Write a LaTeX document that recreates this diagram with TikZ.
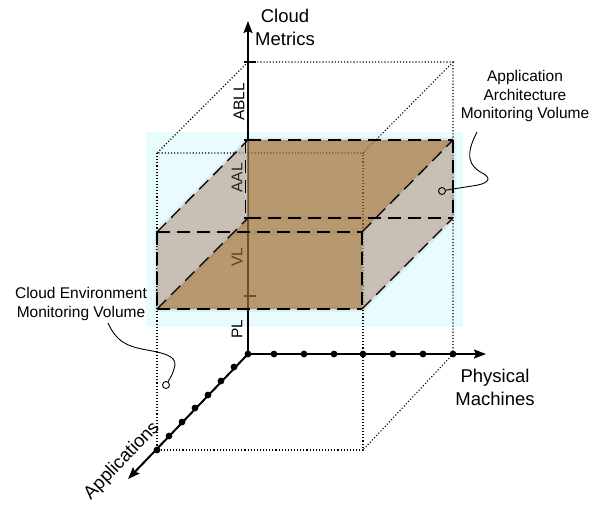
\documentclass[tikz,border=0pt]{standalone}
\usepackage{fontspec}
\setmainfont{Liberation Sans}
\usetikzlibrary{arrows.meta}
\definecolor{cyanbg}{RGB}{232,251,253}
\definecolor{volbrown}{RGB}{163,110,51}
\definecolor{volgrey}{RGB}{187,167,151}
\definecolor{shadowcol}{RGB}{40,50,110}
\definecolor{labbrown}{RGB}{95,62,22}
\definecolor{labdark}{RGB}{40,36,32}
\begin{document}
\begin{tikzpicture}[x=1pt,y=-1pt,
  dotline/.style={line width=1.1pt, dash pattern=on 1.1pt off 2pt, black},
  dashline/.style={line width=1.3pt, dash pattern=on 13pt off 7pt, black},
  shadowline/.style={line width=5pt, shadowcol, opacity=0.07, shift={(1,5)}},
  axisline/.style={line width=2pt, black},
  axisdot/.style={circle, fill=black, inner sep=0pt, minimum size=6.8pt},
  bigtext/.style={font=\fontsize{18.5}{23}\selectfont, align=center},
  smalltext/.style={font=\fontsize{15.5}{18.3}\selectfont, align=center},
  axlabel/.style={font=\fontsize{15.5}{18}\selectfont, rotate=90},
  tickmark/.style={line width=1.8pt, black},
  callout/.style={line width=0.9pt, black},
  marker/.style={circle, draw=black, line width=0.9pt, inner sep=0pt, minimum size=7pt},
  volfill/.style={fill=volbrown, fill opacity=0.7},
  sidefill/.style={fill=volgrey, fill opacity=0.7},
]
\useasboundingbox (0,0) rectangle (600,504);
% background highlight
\fill[cyanbg] (146,132) rectangle (463,327);

% coordinates
\coordinate (O) at (248,354);
\coordinate (Ztip) at (248,21);
\coordinate (Xtip) at (486,354);
\coordinate (Ytip) at (128,479);
% outer (dotted) box
\coordinate (A0) at (248,62);
\coordinate (B0) at (453,62);
\coordinate (C0) at (363,153);
\coordinate (D0) at (157,153);
\coordinate (E0) at (157,450);
\coordinate (F0) at (363,450);
\coordinate (G0) at (453,354);
% volume box
\coordinate (a1) at (248,140);
\coordinate (b1) at (453,140);
\coordinate (c1) at (453,218);
\coordinate (d1) at (248,218);
\coordinate (e1) at (157,232);
\coordinate (f1) at (362,232);
\coordinate (g1) at (362,309);
\coordinate (h1) at (157,309);

% dotted outer box
\draw[dotline] (A0) -- (B0) -- (C0) -- (D0) -- cycle;
\draw[dotline] (D0) -- (E0) -- (F0) -- (C0);
\draw[dotline] (B0) -- (G0) -- (F0);

% axes
\draw[axisline, -{Stealth[length=12pt,width=9pt,inset=2pt]}] (O) -- (Ztip);
\draw[axisline, -{Stealth[length=12pt,width=9pt,inset=2pt]}] (O) -- (Xtip);
\draw[axisline, -{Stealth[length=12pt,width=9pt,inset=2pt]}] (O) -- (Ytip);

% ticks under the volume
\draw[tickmark] (a1) ++(-4,0) -- ++(12,0);
\draw[tickmark] (248,296) ++(-4,0) -- ++(12,0);

% shadows of the volume edges
\draw[shadowline] (a1) -- (b1) -- (c1) -- (g1) -- (h1) -- (e1) -- cycle;
\draw[shadowline] (d1) -- (c1);
\draw[shadowline] (e1) -- (f1) -- (g1);
\draw[shadowline] (h1) -- (d1);
\draw[shadowline] (f1) -- (b1);

% volume fills
\fill[volfill] (a1) -- (b1) -- (f1) -- (g1) -- (h1) -- (d1) -- cycle;
\fill[sidefill] (e1) -- (a1) -- (d1) -- (h1) -- cycle;
\fill[sidefill] (b1) -- (c1) -- (g1) -- (f1) -- cycle;

% dashed edges
\draw[dashline] (a1) -- (b1);
\draw[dashline] (d1) -- (c1);
\draw[dashline] (b1) -- (c1);
\draw[dashline] (e1) -- (f1);
\draw[dashline] (h1) -- (g1);
\draw[dashline] (e1) -- (h1);
\draw[dashline] (f1) -- (g1);
\draw[dashline] (e1) -- (a1);
\draw[dashline] (h1) -- (d1);
\draw[dashline] (f1) -- (b1);
\draw[dashline] (g1) -- (c1);
\draw[dashline, line width=1pt] ([xshift=-3pt]a1) -- ([xshift=-3pt]d1);

% ticks and labels above
\draw[tickmark] (A0) ++(-4,0) -- ++(12,0);
\draw[tickmark] (d1) ++(-4,0) -- ++(12,0);
\node[axlabel] (abll) at (239,102) {ABLL};
\node[axlabel, text=labdark] (aal) at (237,178) {AAL};
\node[axlabel, text=labbrown] (vl) at (237,257) {VL};
\node[axlabel] (pl) at (237,329) {PL};

% axis dots
\node[axisdot] (o0) at (O) {};
\foreach \xx [count=\i] in {274,304,334,363,393,423,453}
  \node[axisdot] (px\i) at (\xx,354) {};
\foreach \xx/\yy [count=\i] in {234/367,221/381,208/395,195/408,182/422,169/436,157/450}
  \node[axisdot] (ap\i) at (\xx,\yy) {};

% axis titles
\node[bigtext] (zlab) at (285,27) {Cloud\\Metrics};
\node[bigtext] (xlab) at (495,387) {Physical\\Machines};
\node[bigtext, rotate=46] (ylab) at (122,461) {Applications};

% callouts
\node[smalltext] (aavol) at (525,96) {Application\\Architecture\\Monitoring Volume};
\node[smalltext] (cevol) at (81,304) {Cloud Environment\\Monitoring Volume};
\node[marker] (m1) at (442,191) {};
\node[marker] (m2) at (166,385) {};
\coordinate (s1) at (477,132);
\coordinate (s2) at (108,323);
\draw[callout] (s1) .. controls (465,155) and (468,166) .. (484,174)
  .. controls (492,179) and (488,184) .. (472,186)
  .. controls (460,188) and (452,189) .. (m1);
\draw[callout] (s2) .. controls (116,340) and (124,346) .. (147,350)
  .. controls (170,354) and (178,358) .. (174,369)
  .. controls (172,375) .. (m2);
\end{tikzpicture}
\end{document}
